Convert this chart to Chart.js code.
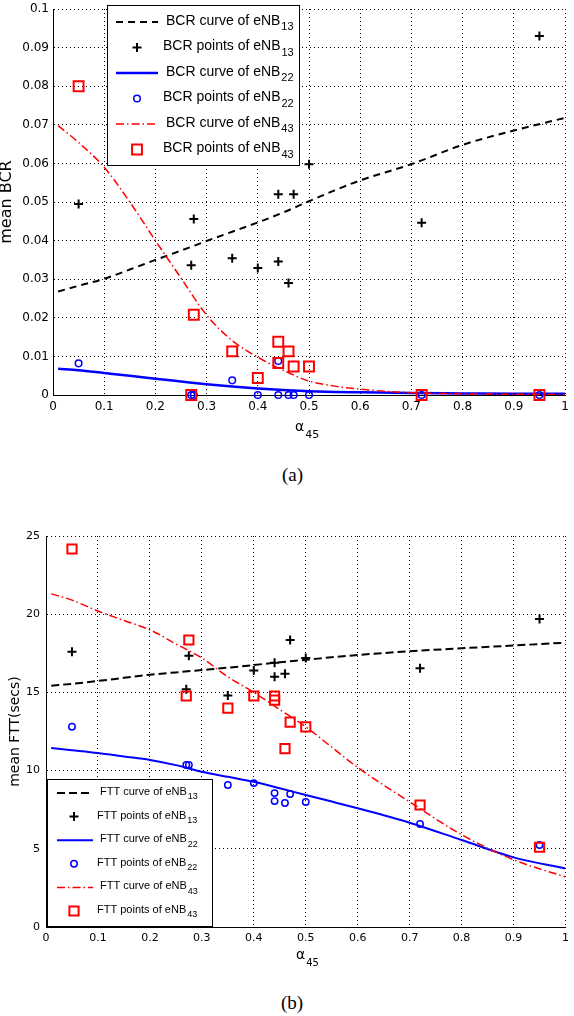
<!DOCTYPE html>
<html lang="en">
<head>
    <meta charset="UTF-8">
    <title>mean BCR and mean FTT vs alpha45</title>
    <script src="https://cdn.jsdelivr.net/npm/chart.js"></script>
    <style>
        body { margin: 0; background: #fff; }
        #page { position: relative; width: 574px; height: 1016px; }
        .box { position: absolute; left: 0; width: 574px; }
        .cap { position: absolute; font-family: "Liberation Serif", serif; font-size: 19px; line-height: 19px; }
    </style>
</head>
<body>
<div id="page">
    <div class="box" style="top:0;height:445px"><canvas id="bcrChart"></canvas></div>
    <div class="cap" style="left:282px;top:465px">(a)</div>
    <div class="box" style="top:520px;height:457px"><canvas id="fttChart"></canvas></div>
    <div class="cap" style="left:281px;top:993px">(b)</div>
</div>

<script>
    // alpha_45 of the measured points (same for every series)
    const alphaPts = [0.05, 0.27, 0.275, 0.35, 0.40, 0.44, 0.44, 0.46, 0.47, 0.50, 0.72, 0.95];

    // (a) mean BCR, measured points
    const bcrPts13 = [0.0495, 0.0336, 0.0456, 0.0354, 0.0329, 0.0346, 0.0520, 0.0290, 0.0520, 0.0598, 0.0446, 0.0930];
    const bcrPts22 = [0.0082, 0, 0, 0.0038, 0, 0.0088, 0, 0, 0, 0, 0, 0];
    const bcrPts43 = [0.0800, 0, 0.0208, 0.0113, 0.0044, 0.0138, 0.0083, 0.0113, 0.0074, 0.0074, 0, 0];

    const curveX = [0.01, 0.05, 0.1, 0.15, 0.2, 0.25, 0.3, 0.35, 0.4, 0.45, 0.5, 0.55, 0.6, 0.7, 0.8, 0.9, 1.0];
    const bcrCurve13 = [0.0268, 0.0283, 0.0301, 0.0325, 0.0350, 0.0374, 0.0399, 0.0423, 0.0447, 0.0473, 0.0502, 0.0530, 0.0556, 0.0598, 0.0648, 0.0685, 0.0718];
    const bcrCurve22 = [0.0068, 0.0064, 0.0057, 0.0050, 0.0042, 0.0035, 0.0028, 0.0022, 0.0017, 0.0013, 0.0010, 0.0008, 0.0007, 0.0005, 0.0004, 0.0003, 0.0003];
    const bcrCurve43 = [0.0698, 0.0654, 0.0590, 0.0500, 0.0400, 0.0303, 0.0207, 0.0141, 0.0098, 0.0064, 0.0036, 0.0023, 0.0015, 0.0006, 0.0003, 0.0002, 0.0001];

    // (b) mean FTT (secs), measured points
    const fttPts13 = [17.6, 15.2, 17.35, 14.8, 16.4, 16.0, 16.9, 16.2, 18.35, 17.2, 16.55, 19.7];
    const fttPts22 = [12.8, 10.36, 10.36, 9.08, 9.2, 8.05, 8.56, 7.93, 8.5, 7.99, 6.59, 5.24];
    const fttPts43 = [24.17, 14.77, 18.35, 14.0, 14.77, 14.5, 14.77, 11.4, 13.1, 12.8, 7.8, 5.1];

    const fttCurve13 = [15.43, 15.55, 15.73, 15.93, 16.13, 16.28, 16.43, 16.58, 16.75, 16.93, 17.08, 17.25, 17.39, 17.63, 17.82, 18.0, 18.18];
    const fttCurve22 = [11.44, 11.3, 11.12, 10.9, 10.68, 10.35, 9.93, 9.6, 9.29, 8.87, 8.44, 8.02, 7.59, 6.67, 5.56, 4.45, 3.74];
    const fttCurve43 = [21.3, 20.9, 20.2, 19.6, 19.0, 18.1, 17.2, 16.0, 15.0, 13.9, 12.8, 11.5, 10.2, 8.0, 5.9, 4.3, 3.2];

    const BLACK = '#000000', BLUE = '#0000ff', RED = '#ff0000';
    const H = Chart.helpers;

    const xy = (xs, ys) => xs.map((x, i) => ({ x: x, y: ys[i] }));

    function curve(label, xs, ys, color, width, dash) {
        return {
            label: label, data: xy(xs, ys), showLine: true, pointRadius: 0,
            borderColor: color, borderWidth: width, borderDash: dash,
            cubicInterpolationMode: 'monotone', fill: false
        };
    }

    function points(label, xs, ys, color, style, radius, width) {
        return {
            label: label, data: xy(xs, ys), showLine: false, clip: false,
            pointStyle: style, pointRadius: radius, pointBorderWidth: width,
            pointBorderColor: color, pointBackgroundColor: 'rgba(0,0,0,0)'
        };
    }

    // text with trailing digits drawn as a subscript
    function drawSubText(ctx, text, x, y, font, subFont, subDy) {
        const m = text.match(/^(.*?)(\d+)$/);
        const main = m ? m[1] : text;
        ctx.font = font;
        ctx.fillText(main, x, y);
        if (m) {
            const w = ctx.measureText(main).width;
            ctx.font = subFont;
            ctx.fillText(m[2], x + w + 1, y + subDy);
        }
    }

    // axis titles and a matlab style legend box (coords relative to the canvas)
    function decor(cfg) {
        return {
            id: 'decor',
            afterDraw(chart) {
                const ctx = chart.ctx;
                const area = chart.chartArea;
                ctx.save();
                ctx.fillStyle = BLACK;
                ctx.textAlign = 'center';
                ctx.textBaseline = 'middle';
                ctx.translate(cfg.yTitleX, (area.top + area.bottom) / 2);
                ctx.rotate(-Math.PI / 2);
                ctx.font = cfg.yTitleFont;
                ctx.fillText(cfg.yTitle, 0, 0);
                ctx.restore();

                ctx.save();
                ctx.fillStyle = BLACK;
                ctx.textAlign = 'left';
                ctx.textBaseline = 'middle';
                drawSubText(ctx, 'α45', cfg.xTitle.x, cfg.xTitle.y, cfg.xTitle.font, cfg.xTitle.subFont, cfg.xTitle.subDy);

                const lg = cfg.legend;
                ctx.fillStyle = '#ffffff';
                ctx.fillRect(lg.x, lg.y, lg.w, lg.h);
                ctx.strokeStyle = BLACK;
                ctx.lineWidth = 1;
                ctx.setLineDash([]);
                ctx.strokeRect(lg.x + 0.5, lg.y + 0.5, lg.w, lg.h);

                chart.data.datasets.forEach((ds, i) => {
                    const y = lg.row0 + i * lg.step;
                    ctx.save();
                    if (ds.showLine) {
                        ctx.strokeStyle = ds.borderColor;
                        ctx.lineWidth = ds.borderWidth;
                        ctx.setLineDash(ds.borderDash || []);
                        ctx.beginPath();
                        ctx.moveTo(lg.lineX0, y + 1);
                        ctx.lineTo(lg.lineX1, y + 1);
                        ctx.stroke();
                    } else {
                        ctx.strokeStyle = ds.pointBorderColor;
                        ctx.fillStyle = 'rgba(0,0,0,0)';
                        ctx.lineWidth = ds.pointBorderWidth;
                        H.drawPoint(ctx, { pointStyle: ds.pointStyle, radius: ds.pointRadius, borderWidth: ds.pointBorderWidth, rotation: 0 }, lg.markX, y + 1);
                    }
                    ctx.restore();
                    ctx.fillStyle = BLACK;
                    ctx.textAlign = 'left';
                    ctx.textBaseline = 'middle';
                    drawSubText(ctx, ds.label, ds.showLine ? lg.textXLine : lg.textXPoint, y, lg.font, lg.subFont, lg.subDy);
                });
                ctx.restore();
            }
        };
    }

    function axis(min, max, step, fontSize, size, isY, pad) {
        return {
            type: 'linear', min: min, max: max,
            ticks: {
                stepSize: step, color: BLACK, padding: pad,
                font: { family: 'DejaVu Sans', size: fontSize },
                callback: v => String(+v.toFixed(3))
            },
            grid: { color: BLACK, lineWidth: 1, drawTicks: false },
            border: { color: BLACK, width: 1, dash: [1, 3] },
            afterFit: s => {
                if (isY) { s.width = size; s.paddingTop = 0; s.paddingBottom = 0; }
                else { s.height = size; s.paddingLeft = 0; s.paddingRight = 0; }
            }
        };
    }

    function makeChart(id, datasets, xScale, yScale, padding, deco) {
        datasets.forEach((d, i) => { d.order = datasets.length - 1 - i; });
        return new Chart(document.getElementById(id), {
            type: 'scatter',
            data: { datasets: datasets },
            options: {
                responsive: true,
                maintainAspectRatio: false,
                animation: false,
                layout: { padding: padding },
                plugins: { legend: { display: false }, tooltip: { enabled: false } },
                scales: { x: xScale, y: yScale }
            },
            plugins: [deco]
        });
    }

    // (a) mean BCR
    makeChart('bcrChart', [
        curve('BCR curve of eNB13', curveX, bcrCurve13, BLACK, 2, [7, 5]),
        points('BCR points of eNB13', alphaPts, bcrPts13, BLACK, 'cross', 4.5, 2),
        curve('BCR curve of eNB22', curveX, bcrCurve22, BLUE, 2.5, []),
        points('BCR points of eNB22', alphaPts, bcrPts22, BLUE, 'circle', 3.3, 1.5),
        curve('BCR curve of eNB43', curveX, bcrCurve43, RED, 1.5, [8, 3, 1.5, 3]),
        points('BCR points of eNB43', alphaPts, bcrPts43, RED, 'rect', 7, 2)
    ],
        axis(0, 1, 0.1, 12, 50, false, 5),
        axis(0, 0.1, 0.01, 12, 53, true, 4),
        { top: 5, right: 5, left: 0, bottom: 0 },
        decor({
            yTitle: 'mean BCR', yTitleX: 7, yTitleFont: '16px "DejaVu Sans"',
            xTitle: { x: 295, y: 427, font: '14px "DejaVu Sans"', subFont: '11px "DejaVu Sans"', subDy: 8 },
            legend: {
                x: 107, y: 5, w: 192, h: 160, row0: 21, step: 25.5,
                lineX0: 116, lineX1: 158, markX: 137, textXLine: 166, textXPoint: 163,
                font: '14px "Liberation Sans"', subFont: '11px "Liberation Sans"', subDy: 6
            }
        })
    );

    // (b) mean FTT, canvas starts at page y = 520
    makeChart('fttChart', [
        curve('FTT curve of eNB13', curveX, fttCurve13, BLACK, 2, [8, 4]),
        points('FTT points of eNB13', alphaPts, fttPts13, BLACK, 'cross', 4.5, 2),
        curve('FTT curve of eNB22', curveX, fttCurve22, BLUE, 2, []),
        points('FTT points of eNB22', alphaPts, fttPts22, BLUE, 'circle', 3.2, 1.5),
        curve('FTT curve of eNB43', curveX, fttCurve43, RED, 1.5, [8, 3, 1.5, 3]),
        points('FTT points of eNB43', alphaPts, fttPts43, RED, 'rect', 6.5, 2)
    ],
        axis(0, 1, 0.1, 11, 50, false, 5),
        axis(0, 25, 5, 11, 46, true, 6),
        { top: 16, right: 2, left: 0, bottom: 0 },
        decor({
            yTitle: 'mean FTT(secs)', yTitleX: 15, yTitleFont: '14px "DejaVu Sans"',
            xTitle: { x: 296, y: 435, font: '14px "DejaVu Sans"', subFont: '10px "DejaVu Sans"', subDy: 8 },
            legend: {
                x: 47, y: 259, w: 165, h: 147, row0: 272, step: 23.6,
                lineX0: 57, lineX1: 93, markX: 74, textXLine: 100, textXPoint: 97,
                font: '11px "Liberation Sans"', subFont: '9px "Liberation Sans"', subDy: 5
            }
        })
    );
</script>
</body>
</html>
